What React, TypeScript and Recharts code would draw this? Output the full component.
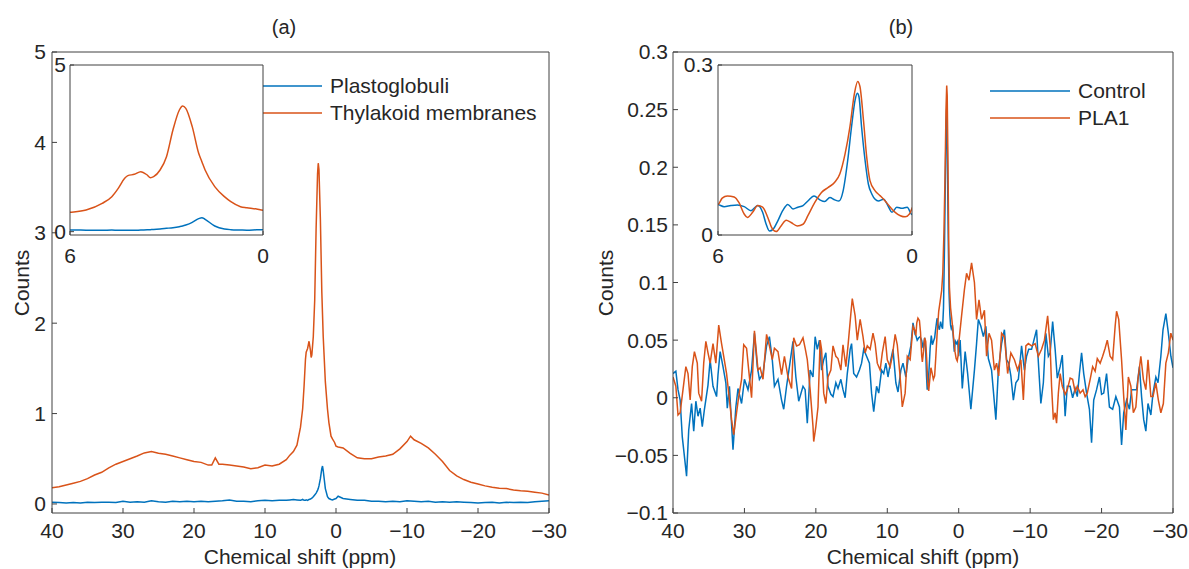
import React from 'react';
import { LineChart, Line, XAxis, YAxis, Legend, CartesianGrid } from 'recharts';

const FONT = '"Liberation Sans", Arial, Helvetica, sans-serif';
const AXIS = '#404040';
const TEXT = '#262626';
const BLUE = '#0072BD';
const ORANGE = '#D95319';

const titles = ['(a)', '(b)'];
const xLabel = 'Chemical shift (ppm)';
const yLabel = 'Counts';
const seriesNamesA = ['Plastoglobuli', 'Thylakoid membranes'];
const seriesNamesB = ['Control', 'PLA1'];

const ppmTicks = [40, 30, 20, 10, 0, -10, -20, -30];
const countTicksA = [0, 1, 2, 3, 4, 5];
const countTicksB = [-0.1, -0.05, 0, 0.05, 0.1, 0.15, 0.2, 0.25, 0.3];
const insetPpmTicks = [6, 0];
const insetCountTicksA = [0, 5];
const insetCountTicksB = [0, 0.3];

// panel (a): [ppm, counts]
const plastoglobuli: [number, number][] = [
  [40, 0.02], [39, 0.015], [38, 0.01], [37, 0.015], [36, 0.01], [35, 0.02], [34, 0.015], [33, 0.02], [32, 0.02], [31, 0.015],
  [30, 0.03], [29, 0.02], [28, 0.025], [27, 0.02], [26, 0.035], [25, 0.025], [24, 0.02], [23, 0.03], [22, 0.025], [21, 0.03],
  [20, 0.025], [19, 0.03], [18, 0.025], [17, 0.03], [16, 0.035], [15, 0.045], [14, 0.03], [13, 0.03], [12, 0.025], [11, 0.035],
  [10, 0.04], [9, 0.035], [8, 0.04], [7, 0.04],
  [6.5, 0.045], [6, 0.05], [5.5, 0.045], [5, 0.04], [4.7, 0.05], [4.5, 0.04], [4.3, 0.04], [4.2, 0.045], [4, 0.04], [3.8, 0.05],
  [3.6, 0.055], [3.5, 0.06], [3.4, 0.065], [3.2, 0.08], [3, 0.1], [2.8, 0.12], [2.6, 0.15], [2.5, 0.17], [2.4, 0.2], [2.2, 0.28],
  [2, 0.39], [1.9, 0.42], [1.8, 0.37], [1.5, 0.17], [1.2, 0.08], [1, 0.06], [0.7, 0.05], [0.5, 0.045], [0.2, 0.055], [0, 0.06],
  [-0.3, 0.085],
  [-1, 0.06], [-2, 0.05], [-3, 0.04], [-4, 0.04], [-5, 0.03], [-6, 0.03], [-7, 0.025], [-8, 0.03], [-9, 0.025], [-10, 0.035],
  [-11, 0.03], [-12, 0.025], [-13, 0.03], [-14, 0.02], [-15, 0.025], [-16, 0.02], [-17, 0.025], [-18, 0.02], [-19, 0.015], [-20, 0.01],
  [-21, 0.015], [-22, 0.02], [-23, 0.01], [-24, 0.02], [-25, 0.015], [-26, 0.02], [-27, 0.015], [-28, 0.025], [-29, 0.03], [-30, 0.035],
];

const thylakoid: [number, number][] = [
  [40, 0.18], [39, 0.19], [38, 0.21], [37, 0.23], [36, 0.25], [35, 0.28], [34, 0.32], [33, 0.35], [32, 0.4], [31, 0.44],
  [30, 0.47], [29, 0.5], [28, 0.53], [27, 0.565], [26, 0.58], [25, 0.56], [24, 0.55], [23, 0.53], [22, 0.51], [21, 0.49],
  [20, 0.47], [19, 0.46], [18, 0.43], [17.5, 0.43], [17, 0.51], [16.5, 0.44], [16, 0.44], [15, 0.43], [14, 0.42], [13, 0.41],
  [12, 0.39], [11, 0.4], [10, 0.43], [9, 0.42], [8, 0.44], [7, 0.49],
  [6.5, 0.54], [6, 0.58], [5.5, 0.65], [5, 0.85], [4.7, 1.05], [4.5, 1.3], [4.3, 1.6], [4.2, 1.68], [4, 1.72], [3.8, 1.8],
  [3.6, 1.7], [3.5, 1.62], [3.4, 1.65], [3.2, 1.85], [3, 2.25], [2.8, 3.05], [2.6, 3.65], [2.5, 3.77], [2.4, 3.7], [2.2, 3.15],
  [2, 2.35], [1.9, 2.1], [1.8, 1.85], [1.5, 1.35], [1.2, 1.05], [1, 0.9], [0.7, 0.75], [0.5, 0.72], [0.2, 0.68], [0, 0.64],
  [-0.3, 0.63],
  [-1, 0.62], [-2, 0.56], [-3, 0.51], [-4, 0.5], [-5, 0.5], [-6, 0.52], [-7, 0.53], [-8, 0.55], [-9, 0.61], [-10, 0.69],
  [-10.5, 0.75], [-11, 0.71], [-12, 0.67], [-13, 0.62], [-14, 0.55], [-15, 0.47], [-16, 0.37], [-17, 0.31], [-18, 0.27], [-19, 0.24],
  [-20, 0.22], [-21, 0.2], [-22, 0.185], [-23, 0.175], [-24, 0.17], [-25, 0.155], [-26, 0.145], [-27, 0.14], [-28, 0.13], [-29, 0.12],
  [-30, 0.1],
];

// panel (b): [ppm, counts]
const control: [number, number][] = [
  [40, 0.021], [39.6, 0.023], [39.3, 0.007], [39, -0.002], [38.7, -0.034], [38.1, -0.068], [37.8, -0.028], [37.4, -0.005],
  [37.1, -0.029], [36.8, -0.003], [36.5, -0.016], [36.2, -0.009], [35.9, -0.025], [35.6, -0.01], [35.1, 0.011], [34.8, 0.033],
  [34.4, 0.01], [33.9, 0.001], [33.7, 0.02], [33.4, 0.04], [33, 0.027], [32.6, 0.013], [32.4, -0.009], [32.1, 0.01],
  [31.6, -0.045], [31.2, -0.008], [30.9, 0.008], [30.4, -0.005], [30, 0.016], [29.5, 0.007], [29, 0.024], [28.6, 0.056],
  [28.2, 0.027], [27.9, 0.016], [27.4, 0.021], [26.9, 0.045], [26.5, 0.053], [26.1, 0.033], [25.8, 0.01], [25.3, 0.016],
  [24.8, -0.002], [24.5, -0.01], [24.1, 0.01], [23.7, 0.027], [23.2, 0.049], [22.8, 0.018], [22.4, -0.003], [21.8, 0.01],
  [21.5, 0.007], [21.2, -0.022], [20.8, 0.024], [20.4, 0.018], [20.1, 0.053], [19.8, 0.042], [19.5, 0.05], [19.2, 0.024],
  [18.9, 0.033], [18.6, 0.039], [18.3, 0.01], [17.9, 0.003], [17.6, 0.001], [17.2, 0.013], [16.9, 0.008], [16.5, 0.016],
  [16.2, 0.007], [15.9, 0], [15.6, 0.021], [15.2, 0.042], [15, 0.047], [14.7, 0.021], [14.3, 0.018], [13.9, 0.024],
  [13.6, 0.03], [13.3, 0.042], [12.9, 0.036], [12.5, 0.03], [12.2, 0.004], [11.9, -0.012], [11.5, 0.01], [11.2, 0.004],
  [10.8, 0.024], [10.5, 0.021], [10.2, 0.03], [9.9, 0.018], [9.5, 0.033], [9.2, 0.042], [8.8, 0.013], [8.5, 0.005],
  [8.1, 0.024], [7.8, 0.03], [7.4, 0.018], [7.1, 0.033], [6.7, 0.045], [6.4, 0.065], [6.1, 0.055],
  [6, 0.054], [5.81, 0.05], [5.6, 0.052], [5.4, 0.053], [5.19, 0.05], [4.98, 0.043], [4.77, 0.052], [4.62, 0.04],
  [4.51, 0.019], [4.41, 0.007], [4.3, 0.01], [4.15, 0.025], [4, 0.043], [3.84, 0.054], [3.68, 0.046], [3.53, 0.049],
  [3.37, 0.052], [3.22, 0.06], [3.03, 0.069], [2.85, 0.062], [2.7, 0.059], [2.54, 0.066], [2.39, 0.062], [2.26, 0.06],
  [2.13, 0.078], [1.99, 0.131], [1.87, 0.191], [1.76, 0.238], [1.69, 0.25], [1.64, 0.244], [1.56, 0.191], [1.45, 0.131],
  [1.35, 0.09], [1.24, 0.072], [1.14, 0.063], [1.04, 0.06], [0.88, 0.063], [0.72, 0.049], [0.62, 0.04], [0.47, 0.049],
  [0.31, 0.047], [0.15, 0.049], [0, 0.036],
  [-0.2, 0.05], [-0.5, 0.008], [-0.9, 0.04], [-1.25, 0.021], [-1.7, -0.01], [-2.2, 0.024], [-2.5, 0.047], [-2.75, 0.068],
  [-3.1, 0.062], [-3.45, 0.053], [-3.8, 0.062], [-4.15, 0.034], [-4.6, 0.024], [-5.2, -0.019], [-5.55, 0.024], [-6, 0.047],
  [-6.4, 0.059], [-6.7, 0.033], [-7, 0.03], [-7.3, 0.019], [-7.65, -0.002], [-8, 0.013], [-8.35, 0.016], [-8.8, 0.045],
  [-9.2, 0.024], [-9.5, 0.036], [-9.8, 0.042], [-10.2, 0.042], [-10.9, 0.059], [-11.1, 0.036], [-11.5, -0.005], [-11.85, 0.013],
  [-12.2, 0.056], [-12.55, 0.036], [-12.8, 0.039], [-13.15, 0.066], [-13.5, 0.042], [-13.8, 0.017], [-14.2, 0.027], [-14.5, 0.037],
  [-14.9, -0.016], [-15.2, 0.01], [-15.6, 0.01], [-15.95, 0], [-16.3, 0.008], [-16.6, 0.001], [-16.9, 0.021], [-17.2, 0.039],
  [-17.5, 0.021], [-17.9, 0.004], [-18.3, -0.01], [-18.6, -0.039], [-18.9, -0.002], [-19.3, 0.007], [-19.7, 0.018], [-20, 0.003],
  [-20.3, 0.004], [-20.7, 0.021], [-21.1, -0.008], [-21.55, -0.01], [-22, 0.001], [-22.5, -0.008], [-22.8, -0.041], [-23.1, -0.013],
  [-23.5, -0.002], [-23.9, -0.01], [-24.2, 0.007], [-24.5, 0.007], [-24.9, 0.007], [-25.3, 0.027], [-25.6, 0.001], [-25.9, -0.019],
  [-26.2, -0.029], [-26.5, -0.005], [-26.9, -0.015], [-27.2, 0.004], [-27.6, 0.018], [-27.9, 0.013], [-28.3, 0.036], [-28.6, 0.059],
  [-29, 0.073], [-29.35, 0.056], [-29.7, 0.036], [-30, 0.026],
];

const pla1: [number, number][] = [
  [40, 0.018], [39.6, 0.01], [39.3, -0.015], [39, -0.013], [38.6, 0.007], [38.2, 0.027], [37.9, 0.021], [37.6, -0.002],
  [37.3, 0.027], [37, 0.04], [36.6, 0.03], [36.4, 0.004], [36, -0.003], [35.7, 0.03], [35.4, 0.049], [35.1, 0.039],
  [34.8, 0.03], [34.4, 0.047], [34, 0.03], [33.6, 0.063], [33.2, 0.047], [32.9, 0.036], [32.5, 0.021], [32.2, 0.004],
  [31.8, -0.019], [31.5, -0.032], [31.1, -0.013], [30.8, 0.001], [30.4, 0.016], [30.1, 0.046], [29.7, 0.043], [29.4, 0.024],
  [29, 0], [28.6, 0.058], [28.1, 0.024], [27.8, 0.026], [27.4, 0.016], [26.9, 0.055], [26.5, 0.045], [26.1, 0.033],
  [25.8, 0.043], [25.3, 0.04], [24.8, 0.02], [24.4, 0.036], [23.9, 0.018], [23.4, 0.008], [23.1, 0.052], [22.7, 0.045],
  [22.3, 0.046], [21.8, 0.052], [21.5, 0.043], [21.2, 0.033], [20.8, 0.007], [20.4, -0.025], [20.3, -0.038], [20, -0.025],
  [19.7, -0.008], [19.4, 0.05], [19.2, 0.042], [18.9, 0.004], [18.6, -0.005], [18.3, 0.018], [17.9, 0.024], [17.6, 0.045],
  [17.2, 0.036], [16.9, 0.034], [16.5, 0.024], [16.2, 0.046], [15.8, 0.027], [15.5, 0.045], [15.1, 0.073], [14.9, 0.086],
  [14.5, 0.071], [14.2, 0.05], [13.8, 0.068], [13.4, 0.053], [13.1, 0.039], [12.8, 0.045], [12.4, 0.042], [12, 0.056],
  [11.7, 0.047], [11.4, 0.03], [11, 0.024], [10.7, 0.039], [10.3, 0.053], [10, 0.033], [9.6, 0.027], [9.3, 0.036],
  [8.9, 0.055], [8.6, 0.046], [8.2, 0.018], [7.9, -0.008], [7.5, 0.004], [7.2, 0.036], [6.8, 0.033], [6.4, 0.062], [6.1, 0.058],
  [6, 0.054], [5.87, 0.065], [5.71, 0.069], [5.5, 0.067], [5.35, 0.057], [5.19, 0.037], [5.09, 0.031], [4.93, 0.04],
  [4.77, 0.052], [4.62, 0.049], [4.46, 0.031], [4.34, 0.013], [4.2, 0.006], [4.05, 0.016], [3.89, 0.026], [3.74, 0.022],
  [3.55, 0.016], [3.37, 0.019], [3.22, 0.034], [3.01, 0.057], [2.8, 0.075], [2.59, 0.084], [2.39, 0.093], [2.23, 0.108],
  [2.07, 0.143], [1.92, 0.191], [1.78, 0.25], [1.68, 0.271], [1.61, 0.262], [1.5, 0.202], [1.4, 0.137], [1.3, 0.096],
  [1.14, 0.078], [0.98, 0.069], [0.83, 0.06], [0.67, 0.049], [0.52, 0.04], [0.36, 0.034], [0.21, 0.032], [0.08, 0.037], [0, 0.047],
  [-0.4, 0.071], [-0.8, 0.094], [-1.1, 0.108], [-1.44, 0.102], [-1.8, 0.117], [-2.2, 0.1], [-2.5, 0.068], [-2.84, 0.085],
  [-3.2, 0.068], [-3.6, 0.076], [-3.9, 0.036], [-4.24, 0.056], [-4.6, 0.05], [-5, 0.024], [-5.3, 0.03], [-5.6, 0.019],
  [-6, 0.056], [-6.4, 0.053], [-6.85, 0.021], [-7.3, 0.039], [-7.8, 0.033], [-8.25, 0.024], [-8.7, 0.033], [-9.05, -0.002],
  [-9.4, 0.045], [-9.75, 0.047], [-10.2, 0.045], [-10.7, 0.047], [-11.15, 0.036], [-11.6, 0.042], [-12, 0.05], [-12.45, 0.071],
  [-12.8, 0.045], [-13, 0.01], [-13.25, -0.019], [-13.5, -0.013], [-13.7, -0.022], [-13.95, 0.004], [-14.2, 0.021], [-14.5, 0.01],
  [-14.9, 0.003], [-15.2, 0.007], [-15.6, 0.017], [-15.95, 0.016], [-16.3, 0.005], [-16.6, 0.01], [-17, 0.004], [-17.4, 0.007],
  [-17.7, 0.001], [-18, 0.004], [-18.4, 0.016], [-18.75, 0.027], [-19.1, 0.023], [-19.4, 0.034], [-19.8, 0.03], [-20.15, 0.036],
  [-20.5, 0.043], [-20.8, 0.05], [-21.2, 0.036], [-21.55, 0.033], [-21.9, 0.062], [-22.1, 0.075], [-22.4, 0.068], [-22.8, 0.033],
  [-23.1, 0.001], [-23.4, -0.028], [-23.75, 0.018], [-24.1, 0.01], [-24.45, -0.013], [-24.8, -0.008], [-25.1, 0.016], [-25.5, 0.036],
  [-25.85, 0.016], [-26.2, 0.007], [-26.5, 0.033], [-26.9, 0.001], [-27.2, 0.001], [-27.6, 0.013], [-27.95, -0.002], [-28.3, -0.013],
  [-28.65, -0.005], [-29, 0.03], [-29.35, 0.039], [-29.7, 0.056], [-30, 0.05],
];

const toPoints = (arr: [number, number][]) => arr.map(([ppm, counts]) => ({ ppm, counts }));
const fmt = (v: number) => String(v).replace('-', '\u2212');

type Series = { name: string; color: string; points: { ppm: number; counts: number }[] };

const seriesA: Series[] = [
  { name: seriesNamesA[0], color: BLUE, points: toPoints(plastoglobuli) },
  { name: seriesNamesA[1], color: ORANGE, points: toPoints(thylakoid) },
];
const seriesB: Series[] = [
  { name: seriesNamesB[0], color: BLUE, points: toPoints(control) },
  { name: seriesNamesB[1], color: ORANGE, points: toPoints(pla1) },
];

const tickStyle = { fill: TEXT, fontSize: 21, fontFamily: FONT };

// x tick label that never runs past the chart's right edge
const makeXTick = (chartWidth: number) => (props: any) => {
  const { x, y, payload } = props;
  const label = fmt(payload.value);
  const half = label.length * 5.9;
  const overflow = x + half > chartWidth - 1;
  return (
    <text x={overflow ? chartWidth - 1 : x} y={y} dy="0.71em" textAnchor={overflow ? 'end' : 'middle'}
      fill={TEXT} fontSize={21} fontFamily={FONT}>{label}</text>
  );
};

const renderLegend = (props: any) => {
  const payload = props.payload || [];
  return (
    <div style={{ fontFamily: FONT, fontSize: 21, color: TEXT }}>
      {payload.map((p: any, i: number) => (
        <div key={i} style={{ display: 'flex', alignItems: 'center', height: 27 }}>
          <svg width={80} height={4} style={{ display: 'block' }}>
            <line x1={0} y1={2} x2={80} y2={2} stroke={p.color} strokeWidth={1.5} />
          </svg>
          <span style={{ marginLeft: 8, whiteSpace: 'nowrap', lineHeight: '27px' }}>{p.value}</span>
        </div>
      ))}
    </div>
  );
};

type PlotProps = {
  w: number; h: number;
  margin: { top: number; right: number; bottom: number; left: number };
  yWidth: number;
  xDomain: [number, number]; yDomain: [number, number];
  xTicks: number[]; yTicks: number[];
  series: Series[];
  tickLen: number; xTickMargin: number; yTickMargin: number;
  curve: 'linear' | 'monotone';
  background?: boolean;
  legendPos?: { left: number; top: number };
};

// The second series is bound to the top/right axes (identical domains) so the full MATLAB-style box is drawn.
// margin.top / margin.right include the 1px top/right axis bands.
function Plot(p: PlotProps) {
  const m = { ...p.margin, top: p.margin.top - 1, right: p.margin.right - 1 };
  return (
    <LineChart width={p.w} height={p.h} margin={m} style={{ fontFamily: FONT }}>
      {p.background && <CartesianGrid horizontal={false} vertical={false} fill="#ffffff" fillOpacity={1} />}
      <XAxis type="number" dataKey="ppm" domain={p.xDomain} reversed allowDataOverflow ticks={p.xTicks} interval={0}
        height={30} tickSize={-p.tickLen} tickMargin={p.xTickMargin} tickFormatter={fmt} stroke={AXIS} tick={makeXTick(p.w)} />
      <XAxis xAxisId="top" orientation="top" type="number" dataKey="ppm" domain={p.xDomain} reversed allowDataOverflow
        ticks={p.xTicks} interval={0} height={1} tickSize={-p.tickLen} tick={false} stroke={AXIS} />
      <YAxis type="number" domain={p.yDomain} allowDataOverflow ticks={p.yTicks} interval={0} width={p.yWidth}
        tickSize={-p.tickLen} tickMargin={p.yTickMargin} tickFormatter={fmt} stroke={AXIS} tick={tickStyle} />
      <YAxis yAxisId="right" orientation="right" type="number" domain={p.yDomain} allowDataOverflow ticks={p.yTicks}
        interval={0} width={1} tickSize={-p.tickLen} tick={false} stroke={AXIS} />
      {p.series.map((s, i) => (
        <Line key={s.name} data={s.points} dataKey="counts" name={s.name} stroke={s.color} strokeWidth={1.5}
          xAxisId={i === 0 ? 0 : 'top'} yAxisId={i === 0 ? 0 : 'right'}
          dot={false} activeDot={false} isAnimationActive={false} type={p.curve} />
      ))}
      {p.legendPos && (
        <Legend layout="vertical" align="center" verticalAlign="middle" content={renderLegend}
          wrapperStyle={{ left: p.legendPos.left, top: p.legendPos.top, width: 'auto' }} />
      )}
    </LineChart>
  );
}

export default function App() {
  return (
    <div style={{ position: 'absolute', left: 0, top: 0, width: 1189, height: 569, background: '#ffffff', fontFamily: FONT, overflow: 'hidden' }}>
      <svg width={1189} height={569} style={{ position: 'absolute', left: 0, top: 0 }}>
        <text x={284} y={34} textAnchor="middle" fontSize={20} fill={TEXT} fontFamily={FONT}>{titles[0]}</text>
        <text x={901} y={34} textAnchor="middle" fontSize={20} fill={TEXT} fontFamily={FONT}>{titles[1]}</text>
        <text x={300} y={564} textAnchor="middle" fontSize={21} fill={TEXT} fontFamily={FONT}>{xLabel}</text>
        <text x={923} y={564} textAnchor="middle" fontSize={21} fill={TEXT} fontFamily={FONT}>{xLabel}</text>
        <text transform="translate(29,283) rotate(-90)" textAnchor="middle" fontSize={21} fill={TEXT} fontFamily={FONT}>{yLabel}</text>
        <text transform="translate(613,283) rotate(-90)" textAnchor="middle" fontSize={21} fill={TEXT} fontFamily={FONT}>{yLabel}</text>
      </svg>
      <div style={{ position: 'absolute', left: 0, top: 0 }}>
        <Plot w={600} h={569} margin={{ top: 52, right: 51, bottom: 26, left: 12 }} yWidth={40}
          xDomain={[-30, 40]} yDomain={[-0.1, 5]} xTicks={ppmTicks} yTicks={countTicksA} series={seriesA}
          tickLen={5} xTickMargin={15} yTickMargin={11} curve="linear" legendPos={{ left: 242, top: 72 }} />
      </div>
      <div style={{ position: 'absolute', left: 600, top: 0 }}>
        <Plot w={589} h={569} margin={{ top: 52, right: 16, bottom: 26, left: 13 }} yWidth={60}
          xDomain={[-30, 40]} yDomain={[-0.1, 0.3]} xTicks={ppmTicks} yTicks={countTicksB} series={seriesB}
          tickLen={5} xTickMargin={15} yTickMargin={10} curve="linear" legendPos={{ left: 390, top: 77 }} />
      </div>
      <div style={{ position: 'absolute', left: 0, top: 0 }}>
        <Plot w={300} h={300} margin={{ top: 65, right: 37, bottom: 35, left: 40 }} yWidth={30}
          xDomain={[0, 6]} yDomain={[-0.1, 5]} xTicks={insetPpmTicks} yTicks={insetCountTicksA} series={seriesA}
          tickLen={4} xTickMargin={17} yTickMargin={8} curve="monotone" background />
      </div>
      <div style={{ position: 'absolute', left: 620, top: 0 }}>
        <Plot w={320} h={300} margin={{ top: 65, right: 28, bottom: 35, left: 53 }} yWidth={45}
          xDomain={[0, 6]} yDomain={[0, 0.3]} xTicks={insetPpmTicks} yTicks={insetCountTicksB} series={seriesB}
          tickLen={4} xTickMargin={17} yTickMargin={9} curve="monotone" background />
      </div>
    </div>
  );
}
